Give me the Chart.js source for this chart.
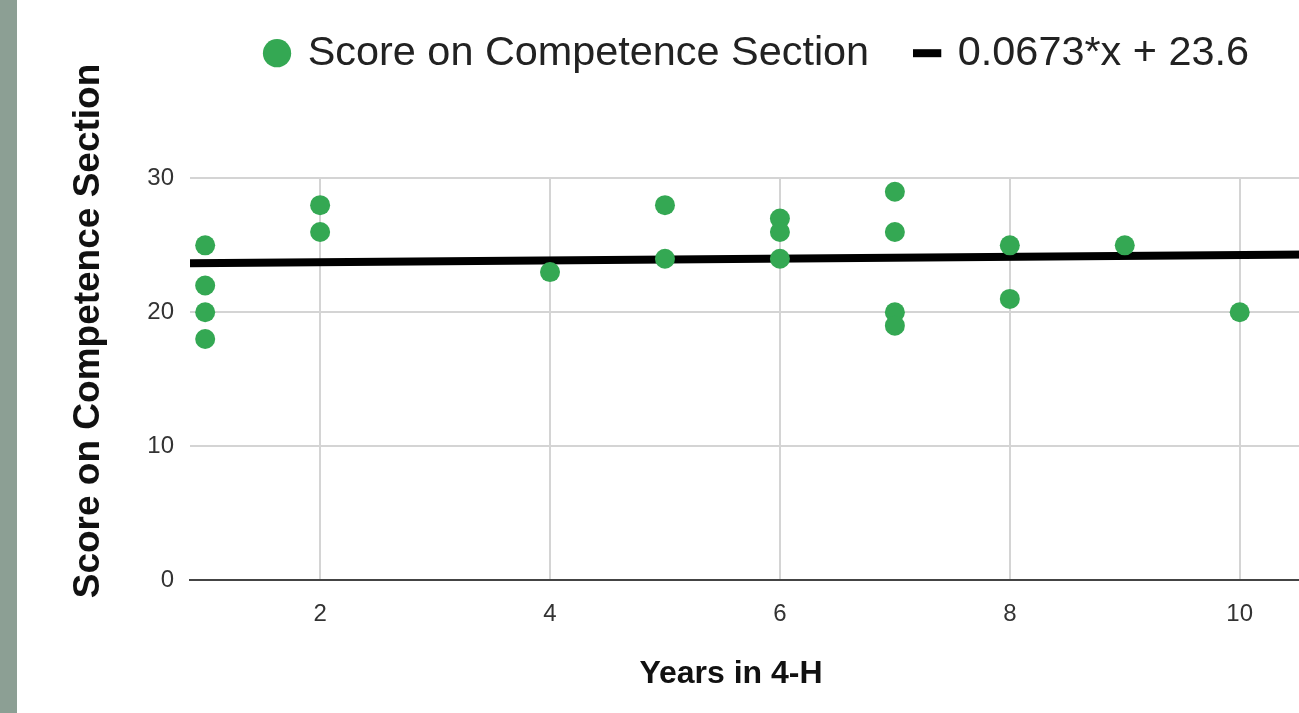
<!DOCTYPE html>
<html>
<head>
<meta charset="utf-8">
<script src="https://cdn.jsdelivr.net/npm/chart.js@4"></script>
<style>
  html, body { margin: 0; padding: 0; background: #fff; overflow: hidden; }
  #strip { position: absolute; left: 0; top: 0; width: 17px; height: 713px; background: #8c9f94; }
  #chart { position: absolute; left: 18px; top: 0; }
</style>
</head>
<body>
<div id="strip"></div>
<canvas id="chart" width="1300" height="713"></canvas>
<script>
// data
const yearsInFourH = [1, 1, 1, 1, 2, 2, 4, 5, 5, 6, 6, 6, 7, 7, 7, 7, 8, 8, 9, 10];
const competenceScores = [25, 22, 20, 18, 28, 26, 23, 28, 24, 27, 26, 24, 29, 26, 20, 19, 25, 21, 25, 20];
const trendSlope = 0.0673;
const trendIntercept = 23.6;
const trendLabel = '0.0673*x + 23.6';
const xTickValues = [2, 4, 6, 8, 10];
const yTickValues = [0, 10, 20, 30];
const xRange = [0.868, 10.594];
const yRange = [0, 30];

const FONT = "'Liberation Sans', Arial, sans-serif";
const green = '#34a853';
const gridColor = '#d4d4d4';

const points = yearsInFourH.map((x, i) => ({ x: x, y: competenceScores[i] }));
const trendPoints = xRange.map(x => ({ x: x, y: trendSlope * x + trendIntercept }));

// move legend and the two axis-title blocks to where the reference has them
const placeBoxes = {
    id: 'placeBoxes',
    afterLayout(chart) {
        const lg = chart.legend;
        lg.left = 0;
        lg.right = 1480;
        lg.top = -15.5;
        lg.bottom = lg.top + lg.height;

        chart.boxes.forEach(b => {
            if (!b.options || b === lg) return;
            if (b.options.text === 'Score on Competence Section') {
                b.left = 48.8;
                b.right = b.left + b.width;
                b.top = 0;
                b.bottom = 662;
            } else if (b.options.text === 'Years in 4-H') {
                b.left = 0;
                b.right = 1426;
                b.top = 654.8;
                b.bottom = b.top + b.height;
            }
        });
    }
};

new Chart(document.getElementById('chart'), {
    type: 'scatter',
    data: {
        datasets: [
            {
                label: 'Score on Competence Section',
                data: points,
                pointStyle: 'circle',
                pointRadius: 10,
                pointBackgroundColor: green,
                pointBorderColor: green,
                pointBorderWidth: 0,
                backgroundColor: green,
                borderColor: green
            },
            {
                type: 'line',
                label: trendLabel,
                data: trendPoints,
                borderColor: '#000',
                borderWidth: 8,
                pointRadius: 0,
                pointStyle: 'line',
                pointBorderColor: '#000',
                pointBorderWidth: 8,
                fill: false
            }
        ]
    },
    options: {
        responsive: false,
        animation: false,
        events: [],
        layout: { padding: { top: 79, right: 0, bottom: 0, left: 0 } },
        plugins: {
            tooltip: { enabled: false },
            legend: {
                position: 'top',
                labels: {
                    usePointStyle: true,
                    boxWidth: 20,
                    boxHeight: 20,
                    padding: 48,
                    color: '#222',
                    font: { family: FONT, size: 41.4 }
                }
            },
            title: {
                display: true,
                position: 'left',
                text: 'Score on Competence Section',
                color: '#111',
                padding: 0,
                font: { family: FONT, size: 37, weight: 'bold' }
            },
            subtitle: {
                display: true,
                position: 'bottom',
                text: 'Years in 4-H',
                color: '#111',
                padding: 0,
                font: { family: FONT, size: 32, weight: 'bold' }
            }
        },
        scales: {
            x: {
                type: 'linear',
                min: xRange[0],
                max: xRange[1],
                afterBuildTicks: s => { s.ticks = xTickValues.map(v => ({ value: v })); },
                afterFit: s => { s.height = 94.6; },
                grid: { color: gridColor, lineWidth: 2, drawTicks: false },
                border: { display: true, color: '#444', width: 2 },
                ticks: {
                    padding: 20,
                    color: '#333',
                    font: { family: FONT, size: 24 }
                }
            },
            y: {
                type: 'linear',
                min: yRange[0],
                max: yRange[1],
                afterBuildTicks: s => { s.ticks = yTickValues.map(v => ({ value: v })); },
                afterFit: s => { s.width = 127.6; },
                grid: { color: gridColor, lineWidth: 2, drawTicks: false },
                border: { display: false },
                ticks: {
                    padding: 16,
                    color: '#333',
                    font: { family: FONT, size: 24 }
                }
            }
        }
    },
    plugins: [placeBoxes]
});
</script>
</body>
</html>
